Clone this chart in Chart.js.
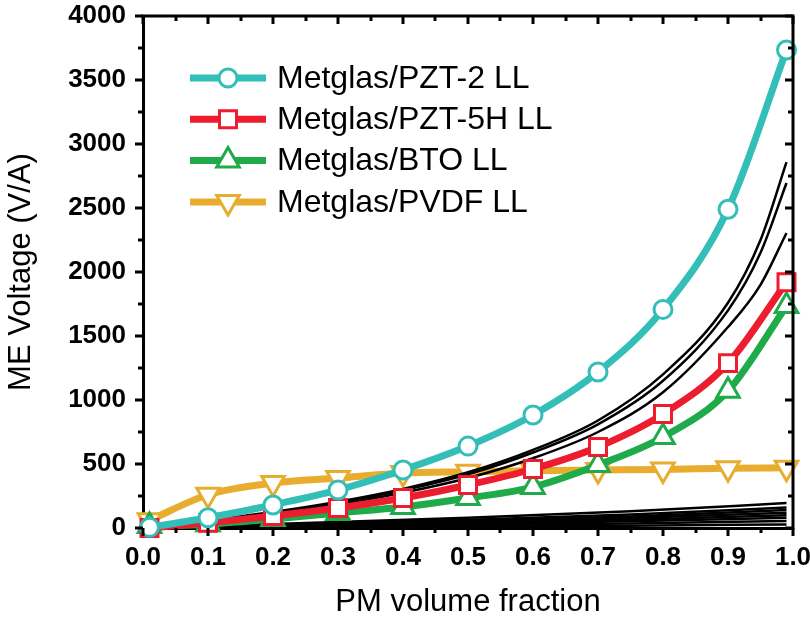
<!DOCTYPE html>
<html>
<head>
<meta charset="utf-8">
<title>ME Voltage vs PM volume fraction</title>
<script src="https://cdn.jsdelivr.net/npm/chart.js@4.4.0/dist/chart.umd.min.js"></script>
<style>
  html, body { margin: 0; padding: 0; background: #fff; }
</style>
</head>
<body>
<canvas id="meChart" width="810" height="625"></canvas>
<script>
// --- Measured ME voltage (V/A) vs piezo (PM) volume fraction ---
const fractions = [0.01, 0.1, 0.2, 0.3, 0.4, 0.5, 0.6, 0.7, 0.8, 0.9, 0.99];
const pzt2Values  = [5, 80, 180, 297, 453, 640, 883, 1219, 1708, 2490, 3734];
const pzt5hValues = [0, 40, 94, 156, 234, 336, 461, 633, 890, 1288, 1920];
const btoValues   = [15, 30, 70, 117, 164, 234, 320, 492, 711, 1072, 1735];
const pvdfValues  = [60, 260, 351, 390, 430, 440, 448, 453, 458, 466, 471];

const seriesLabels = ['Metglas/PZT-2 LL', 'Metglas/PZT-5H LL', 'Metglas/BTO LL', 'Metglas/PVDF LL'];

// --- Model curves (thin black lines) ---
const modelFractions = [0.01, 0.1, 0.2, 0.3, 0.4, 0.5, 0.6, 0.7, 0.8, 0.9, 0.95, 0.99];
const modelUpperA = [3, 60, 125, 205, 305, 435, 610, 840, 1200, 1760, 2250, 2859];
const modelUpperB = [3, 55, 120, 200, 295, 420, 590, 810, 1150, 1700, 2150, 2695];
const modelUpperC = [2, 50, 110, 185, 275, 390, 545, 750, 1060, 1570, 1900, 2305];

const lowFractions = [0.01, 0.25, 0.5, 0.75, 0.99];
const modelLow1 = [0, 40, 80, 130, 195];
const modelLow2 = [0, 32, 65, 105, 160];
const modelLow3 = [0, 28, 56, 90, 140];
const modelLow4 = [0, 24, 48, 78, 120];
const modelLow5 = [0, 20, 40, 65, 100];
const modelLow6 = [0, 15, 32, 52, 80];
const modelLow7 = [0, 10, 22, 35, 55];
const modelLow8 = [0, 5, 10, 18, 28];

// axis ranges / tick steps
const xRange = [0, 1.0];
const xStep = 0.1;
const yRange = [0, 4000];
const yStep = 500;

const FONT = '"Liberation Sans", Arial, Helvetica, sans-serif';
const COLORS = {
    pzt2: '#33bfb8',
    pzt5h: '#ed1c2e',
    bto: '#1fab4a',
    pvdf: '#e8ad2e',
    model: '#000000'
};

function toPoints(xs, ys) {
    return xs.map((x, i) => ({ x: x, y: ys[i] }));
}

function markerSeries(label, values, color, style, radius, rotation) {
    return {
        label: label,
        data: toPoints(fractions, values),
        borderColor: color,
        backgroundColor: '#ffffff',
        borderWidth: 7,
        pointStyle: style,
        pointRadius: radius,
        pointRotation: rotation || 0,
        pointBorderWidth: 3,
        pointBorderColor: color,
        pointBackgroundColor: '#ffffff',
        cubicInterpolationMode: 'monotone',
        clip: false,
        showInLegend: true
    };
}

function modelSeries(xs, values) {
    return {
        data: toPoints(xs, values),
        borderColor: COLORS.model,
        borderWidth: 2.5,
        pointRadius: 0,
        cubicInterpolationMode: 'monotone',
        showInLegend: false
    };
}

// first dataset is drawn on top
const datasets = [
    markerSeries(seriesLabels[0], pzt2Values, COLORS.pzt2, 'circle', 9),
    markerSeries(seriesLabels[1], pzt5hValues, COLORS.pzt5h, 'rect', 12),
    markerSeries(seriesLabels[2], btoValues, COLORS.bto, 'triangle', 13),
    modelSeries(modelFractions, modelUpperA),
    modelSeries(modelFractions, modelUpperB),
    modelSeries(modelFractions, modelUpperC),
    markerSeries(seriesLabels[3], pvdfValues, COLORS.pvdf, 'triangle', 13, 180),
    modelSeries(lowFractions, modelLow1),
    modelSeries(lowFractions, modelLow2),
    modelSeries(lowFractions, modelLow3),
    modelSeries(lowFractions, modelLow4),
    modelSeries(lowFractions, modelLow5),
    modelSeries(lowFractions, modelLow6),
    modelSeries(lowFractions, modelLow7),
    modelSeries(lowFractions, modelLow8)
];

// --- Frame: top/right border + major/minor ticks on all four sides ---
const framePlugin = {
    id: 'originFrame',
    afterDraw(chart) {
        const { ctx, chartArea: a, scales } = chart;
        const xs = scales.x, ys = scales.y;
        ctx.save();
        ctx.strokeStyle = '#000';
        ctx.lineWidth = 3;
        ctx.lineCap = 'butt';
        ctx.beginPath();
        ctx.moveTo(a.left - 1.5, a.top);
        ctx.lineTo(a.right, a.top);
        ctx.lineTo(a.right, a.bottom + 1.5);
        ctx.stroke();

        const major = 8, minor = 5;
        ctx.beginPath();
        for (let v = xRange[0]; v <= xRange[1] + 1e-9; v += xStep / 2) {
            const isMajor = Math.abs(Math.round(v / xStep) * xStep - v) < 1e-6;
            const len = isMajor ? major : minor;
            const px = Math.round(xs.getPixelForValue(v));
            ctx.moveTo(px, a.bottom); ctx.lineTo(px, a.bottom + len);   // bottom: outward
            ctx.moveTo(px, a.top); ctx.lineTo(px, a.top + len);         // top: inward
        }
        for (let v = yRange[0]; v <= yRange[1] + 1e-9; v += yStep / 2) {
            const isMajor = v % yStep === 0;
            const len = isMajor ? major : minor;
            const py = Math.round(ys.getPixelForValue(v));
            ctx.moveTo(a.left, py); ctx.lineTo(a.left - len, py);       // left: outward
            ctx.moveTo(a.right, py); ctx.lineTo(a.right - len, py);     // right: inward
        }
        ctx.stroke();
        ctx.restore();
    }
};

// --- Legend inside the plot: line sample + marker + label ---
const legendPlugin = {
    id: 'insideLegend',
    afterDraw(chart) {
        const { ctx, chartArea: a } = chart;
        const items = chart.data.datasets.filter(d => d.showInLegend);
        const x0 = a.left + 47, x1 = a.left + 123, xm = (x0 + x1) / 2;
        ctx.save();
        items.forEach((ds, i) => {
            const y = a.top + 62 + i * 41.3;
            ctx.strokeStyle = ds.borderColor;
            ctx.lineWidth = ds.borderWidth;
            ctx.beginPath();
            ctx.moveTo(x0, y);
            ctx.lineTo(x1, y);
            ctx.stroke();

            ctx.fillStyle = '#ffffff';
            ctx.lineWidth = ds.pointBorderWidth;
            Chart.helpers.drawPoint(ctx, {
                pointStyle: ds.pointStyle,
                rotation: ds.pointRotation,
                radius: ds.pointRadius,
                borderWidth: ds.pointBorderWidth
            }, xm, y);

            ctx.fillStyle = '#000';
            ctx.font = '32px ' + FONT;
            ctx.textAlign = 'left';
            ctx.textBaseline = 'middle';
            ctx.fillText(ds.label, x1 + 11, y + 1);
        });
        ctx.restore();
    }
};

new Chart(document.getElementById('meChart'), {
    type: 'line',
    data: { datasets: datasets },
    options: {
        responsive: false,
        animation: false,
        devicePixelRatio: 1,
        layout: { padding: { top: 16, right: 17, left: 0, bottom: 4 } },
        plugins: {
            legend: { display: false },
            tooltip: { enabled: false }
        },
        scales: {
            x: {
                type: 'linear',
                min: xRange[0],
                max: xRange[1],
                grid: { display: false, drawTicks: true, tickLength: 8 },
                border: { display: true, color: '#000', width: 3 },
                ticks: {
                    stepSize: xStep,
                    color: '#000',
                    padding: 6,
                    maxRotation: 0,
                    font: { family: FONT, size: 26, weight: 'bold' },
                    callback: v => Number(v).toFixed(1)
                },
                title: {
                    display: true,
                    text: 'PM volume fraction',
                    color: '#000',
                    font: { family: FONT, size: 31 },
                    padding: { top: 0, bottom: 0 }
                },
                afterFit(scale) {
                    scale.height = 625 - 528 - 4;
                    scale.paddingLeft = 0;
                    scale.paddingRight = 0;
                }
            },
            y: {
                type: 'linear',
                min: yRange[0],
                max: yRange[1],
                grid: { display: false, drawTicks: true, tickLength: 8 },
                border: { display: true, color: '#000', width: 3 },
                ticks: {
                    stepSize: yStep,
                    color: '#000',
                    padding: 9,
                    font: { family: FONT, size: 26, weight: 'bold' },
                    callback: v => String(v)
                },
                title: {
                    display: true,
                    text: 'ME Voltage (V/A)',
                    color: '#000',
                    font: { family: FONT, size: 31 },
                    padding: { top: 3, bottom: 0 }
                },
                afterFit(scale) {
                    scale.width = 143;
                    scale.paddingTop = 0;
                    scale.paddingBottom = 0;
                }
            }
        }
    },
    plugins: [framePlugin, legendPlugin]
});
</script>
</body>
</html>
